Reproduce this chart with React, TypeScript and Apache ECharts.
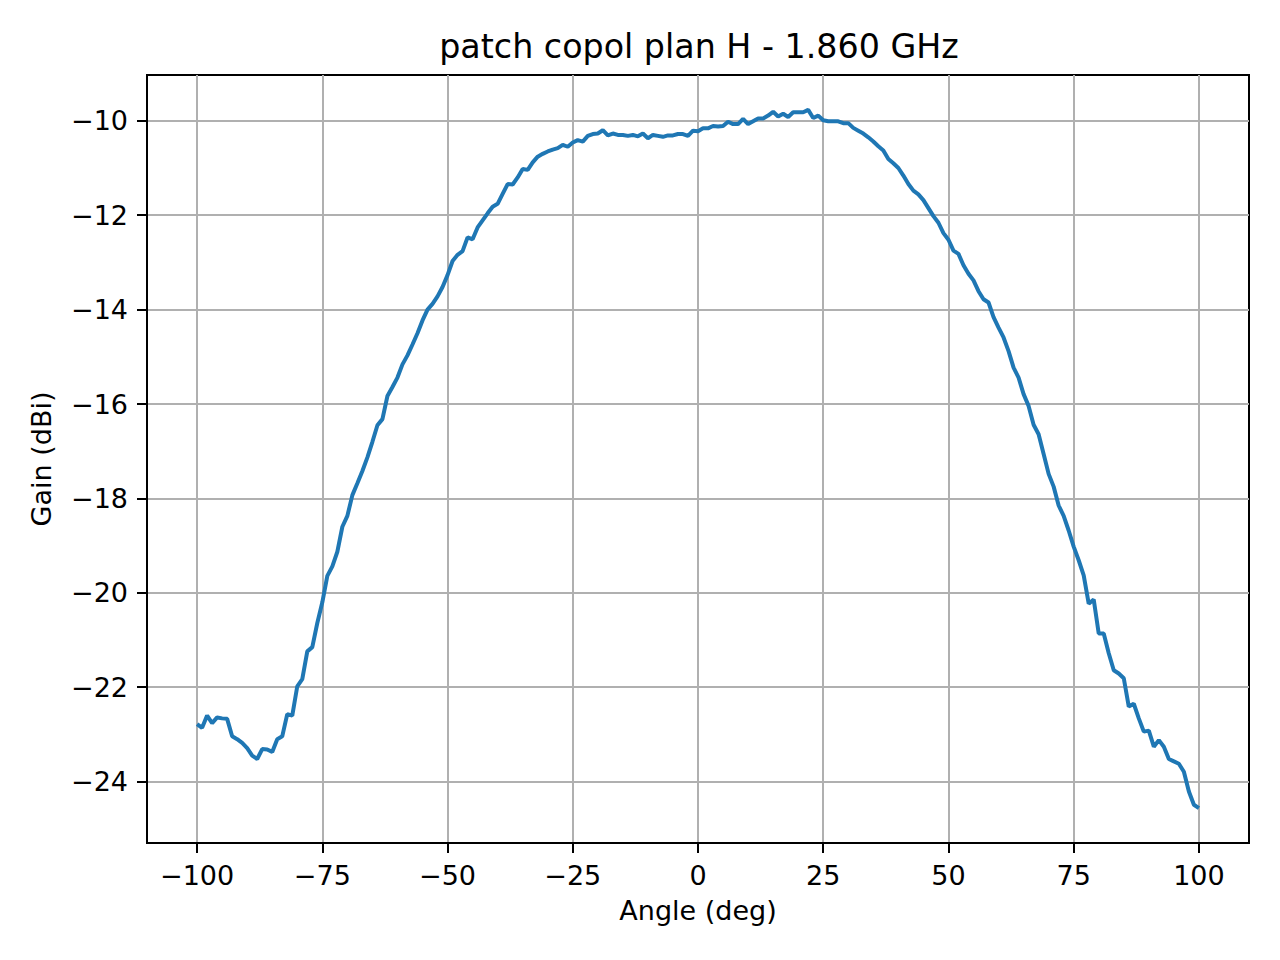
import { useEffect, useRef } from "react";
import * as echarts from "echarts";

const TITLE = "patch copol plan H - 1.860 GHz";
const X_LABEL = "Angle (deg)";
const Y_LABEL = "Gain (dBi)";

// measured angles (deg), one point per degree
const angles = [
  -100, -99, -98, -97, -96, -95, -94, -93, -92, -91,
  -90, -89, -88, -87, -86, -85, -84, -83, -82, -81,
  -80, -79, -78, -77, -76, -75, -74, -73, -72, -71,
  -70, -69, -68, -67, -66, -65, -64, -63, -62, -61,
  -60, -59, -58, -57, -56, -55, -54, -53, -52, -51,
  -50, -49, -48, -47, -46, -45, -44, -43, -42, -41,
  -40, -39, -38, -37, -36, -35, -34, -33, -32, -31,
  -30, -29, -28, -27, -26, -25, -24, -23, -22, -21,
  -20, -19, -18, -17, -16, -15, -14, -13, -12, -11,
  -10, -9, -8, -7, -6, -5, -4, -3, -2, -1,
  0, 1, 2, 3, 4, 5, 6, 7, 8, 9,
  10, 11, 12, 13, 14, 15, 16, 17, 18, 19,
  20, 21, 22, 23, 24, 25, 26, 27, 28, 29,
  30, 31, 32, 33, 34, 35, 36, 37, 38, 39,
  40, 41, 42, 43, 44, 45, 46, 47, 48, 49,
  50, 51, 52, 53, 54, 55, 56, 57, 58, 59,
  60, 61, 62, 63, 64, 65, 66, 67, 68, 69,
  70, 71, 72, 73, 74, 75, 76, 77, 78, 79,
  80, 81, 82, 83, 84, 85, 86, 87, 88, 89,
  90, 91, 92, 93, 94, 95, 96, 97, 98, 99,
  100,
];

// gain (dBi)
const gain = [
  -22.78, -22.86, -22.6, -22.76, -22.64, -22.66, -22.67, -23.04, -23.1, -23.18,
  -23.29, -23.45, -23.52, -23.31, -23.32, -23.37, -23.1, -23.04, -22.57, -22.6,
  -21.98, -21.83, -21.24, -21.15, -20.64, -20.2, -19.64, -19.44, -19.13, -18.6,
  -18.37, -17.93, -17.68, -17.42, -17.13, -16.8, -16.45, -16.32, -15.83, -15.64,
  -15.44, -15.16, -14.97, -14.74, -14.5, -14.23, -14.0, -13.88, -13.72, -13.52,
  -13.27, -12.97, -12.84, -12.76, -12.47, -12.51, -12.26, -12.11, -11.96, -11.82,
  -11.76, -11.55, -11.34, -11.35, -11.2, -11.02, -11.04, -10.88, -10.76, -10.7,
  -10.65, -10.61, -10.58, -10.51, -10.55, -10.46, -10.41, -10.44, -10.32, -10.28,
  -10.27, -10.2, -10.31, -10.27, -10.3, -10.3, -10.32, -10.3, -10.33, -10.27,
  -10.37, -10.3, -10.32, -10.34, -10.31, -10.31, -10.28, -10.28, -10.32, -10.21,
  -10.22, -10.16, -10.16, -10.11, -10.12, -10.11, -10.02, -10.07, -10.07, -9.96,
  -10.07, -10.01, -9.95, -9.95, -9.89, -9.81, -9.91, -9.85, -9.92, -9.82,
  -9.82, -9.82, -9.77, -9.94, -9.89, -9.99, -10.01, -10.01, -10.01, -10.05,
  -10.05, -10.15, -10.21, -10.27, -10.35, -10.44, -10.54, -10.63, -10.81, -10.9,
  -11.0, -11.16, -11.34, -11.48, -11.56, -11.68, -11.85, -12.02, -12.16, -12.38,
  -12.52, -12.75, -12.82, -13.06, -13.24, -13.38, -13.61, -13.78, -13.85, -14.16,
  -14.38, -14.59, -14.88, -15.23, -15.44, -15.79, -16.04, -16.44, -16.64, -17.06,
  -17.48, -17.75, -18.15, -18.37, -18.68, -19.02, -19.31, -19.63, -20.23, -20.14,
  -20.86, -20.86, -21.28, -21.64, -21.71, -21.81, -22.41, -22.35, -22.66, -22.94,
  -22.92, -23.26, -23.12, -23.26, -23.52, -23.57, -23.62, -23.79, -24.21, -24.49,
  -24.56,
];

const xTicks = [-100, -75, -50, -25, 0, 25, 50, 75, 100];
const yTicks = [-24, -22, -20, -18, -16, -14, -12, -10];

const FONT = "'DejaVu Sans', sans-serif";

// matplotlib uses a real minus sign
const fmt = (v: number) => (v < 0 ? "\u2212" + Math.abs(v) : String(v));

export default function App() {
  const chartRef = useRef<HTMLDivElement>(null);

  useEffect(() => {
    if (!chartRef.current) return;
    const chart = echarts.init(chartRef.current, undefined, { renderer: "svg" });

    const axisCommon = {
      axisLine: { show: true, onZero: false, lineStyle: { color: "#000", width: 2 } },
      axisTick: { show: true, length: 10, lineStyle: { color: "#000", width: 2 } },
      splitLine: { show: true, lineStyle: { color: "#b0b0b0", width: 2 } },
      nameLocation: "middle" as const,
      nameTextStyle: { color: "#000", fontSize: 27, fontFamily: FONT },
    };

    chart.setOption({
      animation: false,
      backgroundColor: "#fff",
      title: {
        text: TITLE,
        left: 694,
        top: 25,
        textAlign: "center",
        textStyle: { color: "#000", fontSize: 33.3, fontWeight: "normal", fontFamily: FONT },
      },
      grid: {
        left: 147,
        right: 31,
        top: 75,
        bottom: 117,
        show: true,
        borderColor: "#000",
        borderWidth: 2,
        backgroundColor: "transparent",
      },
      xAxis: {
        type: "value",
        min: -110,
        max: 110,
        name: X_LABEL,
        nameGap: 54,
        ...axisCommon,
        axisTick: { ...axisCommon.axisTick, customValues: xTicks },
        axisLabel: {
          customValues: xTicks,
          margin: 19,
          color: "#000",
          fontSize: 27,
          fontFamily: FONT,
          formatter: fmt,
        },
      },
      yAxis: {
        type: "value",
        min: -25.3,
        max: -9.03,
        name: Y_LABEL,
        nameGap: 92,
        ...axisCommon,
        axisTick: { ...axisCommon.axisTick, customValues: yTicks },
        axisLabel: {
          customValues: yTicks,
          margin: 19,
          color: "#000",
          fontSize: 27,
          fontFamily: FONT,
          formatter: fmt,
        },
      },
      series: [
        {
          type: "line",
          data: angles.map((a, i) => [a, gain[i]]),
          showSymbol: false,
          symbol: "none",
          lineStyle: { color: "#1f77b4", width: 4 },
          z: 5,
        },
      ],
    });

    return () => {
      chart.dispose();
    };
  }, []);

  return (
    <div
      ref={chartRef}
      style={{ position: "absolute", left: 0, top: 0, width: 1280, height: 960 }}
    />
  );
}
